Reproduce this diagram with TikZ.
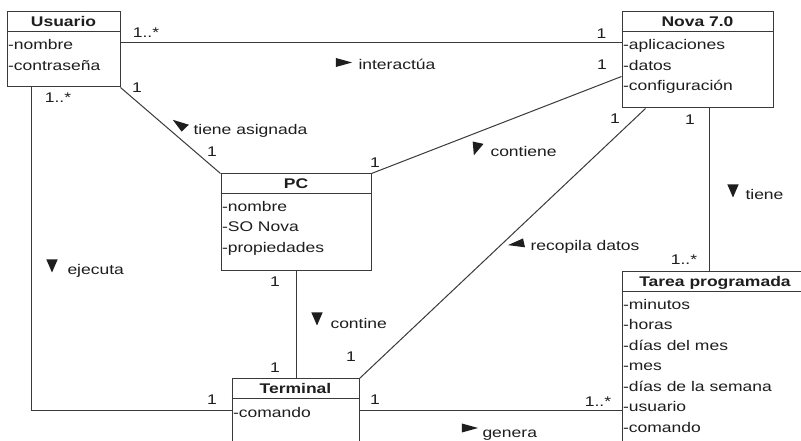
\documentclass[tikz,border=0pt]{standalone}
\usepackage{fontspec}
\setmainfont{Liberation Sans}[FakeStretch=1.25]
\usepackage{xcolor}
\usepackage{tikz}
\usetikzlibrary{fit}
\definecolor{umlline}{HTML}{3A3A3A}
\definecolor{umltext}{HTML}{1E1E1E}

\begin{document}
\begin{tikzpicture}[x=0.75pt,y=-0.75pt,line width=0.75pt]
	\tikzstyle{every node}=[font=\fontsize{10.5}{12}\selectfont, text=umltext, inner sep=0pt, text height=7.5pt, text depth=0pt];
	\tikzstyle{classbox}=[draw=umlline, inner sep=0pt];
	\tikzstyle{head}=[font=\bfseries\fontsize{10.5}{12}\selectfont];
	\tikzstyle{attr}=[anchor=west];
	\tikzstyle{lbl}=[anchor=west];
	\tikzstyle{link}=[draw=umlline];
	\tikzset{dirtri/.pic={\fill[umltext] (-6.5,-4.5) -- (6.5,0) -- (-6.5,4.5) -- cycle;}}

	\useasboundingbox (0,0) rectangle (801,441);
	\fill[white] (0,0) rectangle (801,441);
	\clip (0,0) rectangle (801,441);

	%Classes
	\node[classbox, fit={(7,12) (120,87)}] (usuario) {};
	\node[classbox, fit={(622,12) (773,108)}] (nova) {};
	\node[classbox, fit={(221,174) (371,271)}] (pc) {};
	\node[classbox, fit={(232,379) (359,470)}] (terminal) {};
	\node[classbox, fit={(622,272) (808,470)}] (tarea) {};

	\foreach \c in {usuario,nova,pc,terminal,tarea}
		\draw[link] ([shift={(0,20)}]\c.north west) -- ([shift={(0,20)}]\c.north east);

	\node[head] (usuario-h) at ([shift={(0,10)}]usuario.north) {Usuario};
	\node[head] (nova-h) at ([shift={(0,10)}]nova.north) {Nova 7.0};
	\node[head] (pc-h) at ([shift={(0,10)}]pc.north) {PC};
	\node[head] (terminal-h) at ([shift={(0,10)}]terminal.north) {Terminal};
	\node[head] (tarea-h) at ([shift={(0,10)}]tarea.north) {Tarea programada};

	%Attributes
	\foreach \t [count=\i] in {-nombre,-contraseña}
		\node[attr] (usuario-a\i) at ([shift={(1,13+20.5*\i)}]usuario.north west) {\t};
	\foreach \t [count=\i] in {-aplicaciones,-datos,-configuración}
		\node[attr] (nova-a\i) at ([shift={(1,13+20.5*\i)}]nova.north west) {\t};
	\foreach \t [count=\i] in {-nombre,-SO Nova,-propiedades}
		\node[attr] (pc-a\i) at ([shift={(1,12.5+20.5*\i)}]pc.north west) {\t};
	\foreach \t [count=\i] in {-comando}
		\node[attr] (terminal-a\i) at ([shift={(1,13.5+20.5*\i)}]terminal.north west) {\t};
	\foreach \t [count=\i] in {-minutos,-horas,-días del mes,-mes,-días de la semana,-usuario,-comando}
		\node[attr] (tarea-a\i) at ([shift={(1,12.5+20.5*\i)}]tarea.north west) {\t};

	%Associations
	\draw[link] ([shift={(0,31)}]usuario.north east) -- ([shift={(0,31)}]nova.north west);
	\draw[link] ([shift={(0,65)}]nova.north west) -- (pc.north east);
	\draw[link] (usuario.south east) -- (pc.north west);
	\draw[link] ([shift={(24,0)}]nova.south west) -- (terminal.north east);
	\draw[link] ([shift={(88,0)}]nova.south west) -- ([shift={(88,0)}]tarea.north west);
	\draw[link] (pc.south) -- (pc.south |- terminal.north);
	\draw[link] ([shift={(25,0)}]usuario.south west) |- ([shift={(0,32)}]terminal.north west);
	\draw[link] ([shift={(0,32)}]terminal.north east) -- ([shift={(0,139)}]tarea.north west);

	%Multiplicities
	\node (m-int-u) at (146,33) {1..*};
	\node (m-int-n) at (601.5,34) {1};
	\node (m-con-n) at (602,65) {1};
	\node (m-asg-u) at (137,88) {1};
	\node (m-asg-p) at (212,152) {1};
	\node (m-con-p) at (375,163) {1};
	\node (m-rec-n) at (615,119) {1};
	\node (m-rec-t) at (351,357) {1};
	\node (m-tie-n) at (690,120) {1};
	\node (m-tie-t) at (684,260) {1..*};
	\node (m-cnt-p) at (275,282) {1};
	\node (m-cnt-t) at (275,368) {1};
	\node (m-eje-u) at (58,98) {1..*};
	\node (m-eje-t) at (212,400) {1};
	\node (m-gen-t) at (375,400) {1};
	\node (m-gen-a) at (598,402) {1..*};

	%Names
	\pic[xscale=1.25] at (344,62.5) {dirtri};
	\node[lbl] (l-int) at (358,65) {interactúa};
	\pic[xscale=1.25, rotate=140] at (179,124) {dirtri};
	\node[lbl] (l-asg) at (193,130) {tiene asignada};
	\pic[xscale=1.25, rotate=-105] at (476,149) {dirtri};
	\node[lbl] (l-con) at (490,152) {contiene};
	\pic[xscale=1.25, rotate=190] at (516,244) {dirtri};
	\node[lbl] (l-rec) at (530,246) {recopila datos};
	\pic[xscale=1.25, rotate=-90] at (733,191) {dirtri};
	\node[lbl] (l-tie) at (745,195) {tiene};
	\pic[xscale=1.25, rotate=-90] at (317,319) {dirtri};
	\node[lbl] (l-cnt) at (330,324) {contine};
	\pic[xscale=1.25, rotate=-90] at (52,266) {dirtri};
	\node[lbl] (l-eje) at (67,270) {ejecuta};
	\pic[xscale=1.25] at (470,428) {dirtri};
	\node[lbl] (l-gen) at (482,433) {genera};

\end{tikzpicture}
\end{document}
